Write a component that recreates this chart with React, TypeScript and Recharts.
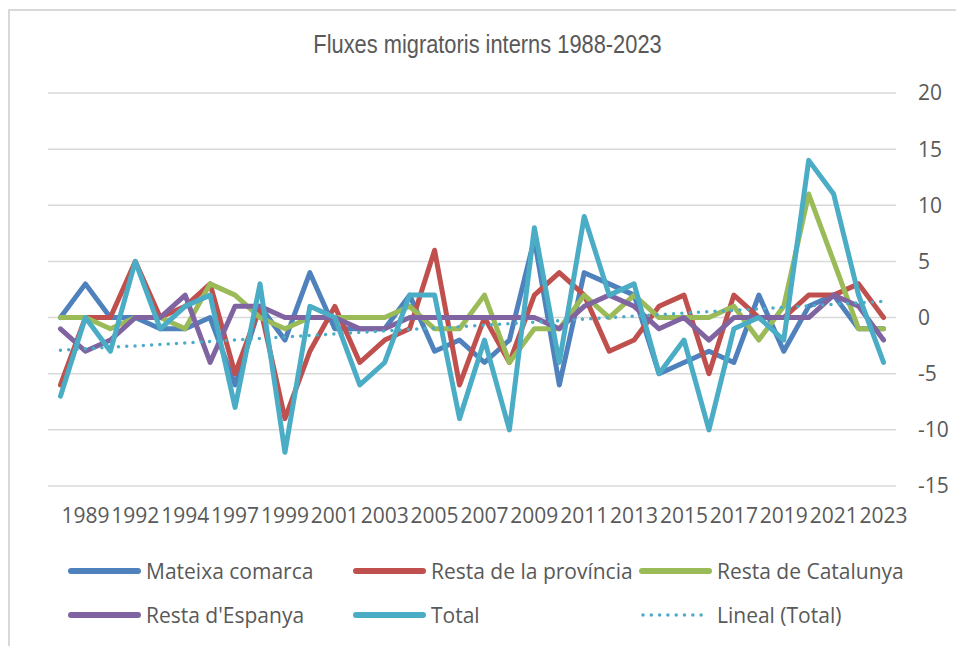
import React from 'react';
import { LineChart, Line, XAxis, YAxis, CartesianGrid, Legend } from 'recharts';

// years in the source table (1991 and 1995 are missing)
const years = [
  '1988', '1989', '1990', '1992', '1993', '1994', '1996', '1997', '1998', '1999',
  '2000', '2001', '2002', '2003', '2004', '2005', '2006', '2007', '2008', '2009',
  '2010', '2011', '2012', '2013', '2014', '2015', '2016', '2017', '2018', '2019',
  '2020', '2021', '2022', '2023',
];

const mateixaComarca = [0, 3, 0, 0, -1, -1, 0, -6, 1, -2, 4, -1, -1, -1, 2, -3, -2, -4, -2, 7, -6, 4, 3, 2, -5, -4, -3, -4, 2, -3, 1, 2, -1, -1];
const restaProvincia = [-6, 0, 0, 5, 0, 1, 3, -5, 1, -9, -3, 1, -4, -2, -1, 6, -6, 0, -4, 2, 4, 2, -3, -2, 1, 2, -5, 2, 0, 0, 2, 2, 3, 0];
const restaCatalunya = [0, 0, -1, 0, 0, -1, 3, 2, 0, -1, 0, 0, 0, 0, 1, -1, -1, 2, -4, -1, -1, 2, 0, 2, 0, 0, 0, 1, -2, 1, 11, 5, -1, -1];
const restaEspanya = [-1, -3, -2, 0, 0, 2, -4, 1, 1, 0, 0, 0, -1, -1, 0, 0, 0, 0, 0, 0, -1, 1, 2, 1, -1, 0, -2, 0, 0, 0, 0, 2, 1, -2];
const total = [-7, 0, -3, 5, -1, 1, 2, -8, 3, -12, 1, 0, -6, -4, 2, 2, -9, -2, -10, 8, -4, 9, 2, 3, -5, -2, -10, -1, 0, -2, 14, 11, 2, -4];

const xTickLabels = ['1989', '1992', '1994', '1997', '1999', '2001', '2003', '2005', '2007', '2009', '2011', '2013', '2015', '2017', '2019', '2021', '2023'];
const yTicks = [-15, -10, -5, 0, 5, 10, 15, 20];

const series = [
  { key: 'mateixa', name: 'Mateixa comarca', color: '#4F81BD', values: mateixaComarca },
  { key: 'provincia', name: 'Resta de la província', color: '#C0504D', values: restaProvincia },
  { key: 'catalunya', name: 'Resta de Catalunya', color: '#9BBB59', values: restaCatalunya },
  { key: 'espanya', name: "Resta d'Espanya", color: '#8064A2', values: restaEspanya },
  { key: 'total', name: 'Total', color: '#4BACC6', values: total },
];

// linear trend of Total (least squares, like Excel's "Lineal" trendline)
const n = total.length;
const meanX = (n - 1) / 2;
const meanY = total.reduce((s, v) => s + v, 0) / n;
let sxy = 0;
let sxx = 0;
total.forEach((v, i) => {
  sxy += (i - meanX) * (v - meanY);
  sxx += (i - meanX) * (i - meanX);
});
const slope = sxy / sxx;

const data = years.map((year, i) => {
  const row: Record<string, number | string> = { year };
  series.forEach((s) => {
    row[s.key] = s.values[i];
  });
  row.trend = meanY + slope * (i - meanX);
  return row;
});

const FONT = '"Open Sans", "Noto Sans", sans-serif';
const TEXT = '#595959';

const legendItems = [
  { name: 'Mateixa comarca', color: '#4F81BD', x: 58, y: 20 },
  { name: 'Resta de la província', color: '#C0504D', x: 343, y: 20 },
  { name: 'Resta de Catalunya', color: '#9BBB59', x: 629, y: 20 },
  { name: "Resta d'Espanya", color: '#8064A2', x: 58, y: 64 },
  { name: 'Total', color: '#4BACC6', x: 343, y: 64 },
  { name: 'Lineal (Total)', color: '#4BACC6', x: 629, y: 64, dotted: true },
];

const renderLegend = () => (
  <div style={{ position: 'relative', width: 946, height: 90 }}>
    {legendItems.map((it) => (
      <div key={it.name} style={{ position: 'absolute', left: it.x, top: it.y - 15, height: 30, display: 'flex', alignItems: 'center' }}>
        <svg width={74} height={30} style={{ display: 'block' }}>
          {it.dotted ? (
            <line x1={4} y1={15} x2={70} y2={15} stroke={it.color} strokeWidth={3.5} strokeDasharray="0 8.3" strokeLinecap="round" />
          ) : (
            <line x1={3} y1={15} x2={70} y2={15} stroke={it.color} strokeWidth={6} strokeLinecap="round" />
          )}
        </svg>
        <span style={{ marginLeft: 4, fontFamily: FONT, fontSize: 21, color: TEXT, whiteSpace: 'nowrap', lineHeight: '30px' }}>
          {it.name}
        </span>
      </div>
    ))}
  </div>
);

export default function App() {
  return (
    <div
      style={{
        position: 'absolute',
        left: 8,
        top: 9,
        width: 946,
        height: 635,
        borderLeft: '2px solid #d9d9d9',
        borderTop: '2px solid #d9d9d9',
        background: '#fff',
      }}
    >
      <div
        style={{
          position: 'absolute',
          left: 9,
          width: 937,
          top: 20,
          textAlign: 'center',
          fontFamily: '"Liberation Sans", Arial, sans-serif',
          fontSize: 26,
          lineHeight: '26px',
          color: TEXT,
          transform: 'scaleX(0.84)',
          transformOrigin: 'center',
        }}
      >
        Fluxes migratoris interns 1988-2023
      </div>
      <LineChart width={946} height={635} data={data} margin={{ top: 82, left: 38, right: 20, bottom: 30 }}>
        <CartesianGrid vertical={false} stroke="#d9d9d9" strokeWidth={1.5} />
        <XAxis
          dataKey="year"
          ticks={xTickLabels}
          interval={0}
          padding={{ left: 12.47, right: 12.47 }}
          axisLine={false}
          tickLine={false}
          tickSize={0}
          tickMargin={22}
          height={40}
          tick={{ fontFamily: FONT, fontSize: 21, fill: TEXT }}
        />
        <YAxis
          orientation="right"
          type="number"
          domain={[-15, 20]}
          ticks={yTicks}
          interval={0}
          axisLine={false}
          tickLine={false}
          tickSize={0}
          tickMargin={22}
          width={40}
          tick={{ fontFamily: FONT, fontSize: 21, fill: TEXT, textAnchor: 'start' }}
        />
        <Legend verticalAlign="bottom" content={renderLegend} wrapperStyle={{ left: 0, top: 540, width: 946, height: 90 }} />
        {series.map((s) => (
          <Line
            key={s.key}
            type="linear"
            dataKey={s.key}
            name={s.name}
            stroke={s.color}
            strokeWidth={5}
            strokeLinejoin="round"
            strokeLinecap="round"
            dot={false}
            activeDot={false}
            isAnimationActive={false}
          />
        ))}
        <Line
          type="linear"
          dataKey="trend"
          name="Lineal (Total)"
          stroke="#4BACC6"
          strokeWidth={3.5}
          strokeDasharray="0 8.3"
          strokeLinecap="round"
          dot={false}
          activeDot={false}
          isAnimationActive={false}
        />
      </LineChart>
    </div>
  );
}
